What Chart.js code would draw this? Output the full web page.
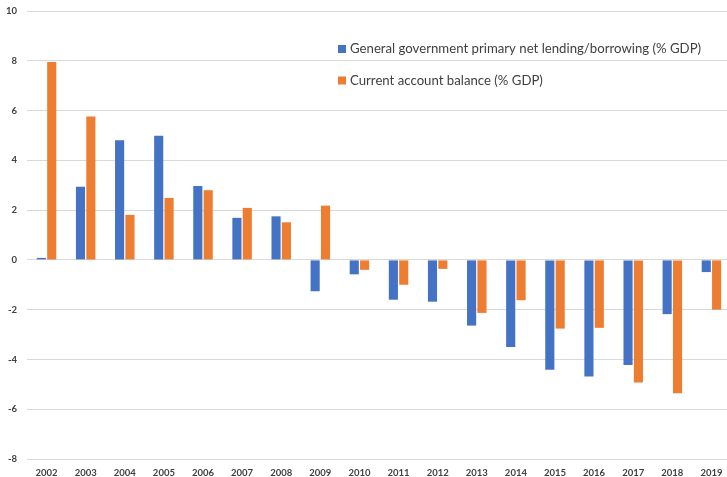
<!DOCTYPE html>
<html>
<head>
<meta charset="utf-8">
<script src="https://cdn.jsdelivr.net/npm/chart.js@4.4.1/dist/chart.umd.min.js"></script>
<style>
html,body{margin:0;padding:0;background:#fff;overflow:hidden;}
#wrap{position:relative;width:731px;height:477px;}
</style>
</head>
<body>
<div id="wrap"><canvas id="c" width="731" height="477"></canvas></div>
<script>
const categories = ['2002','2003','2004','2005','2006','2007','2008','2009','2010','2011','2012','2013','2014','2015','2016','2017','2018','2019'];
const primaryBalance = [0.08, 2.94, 4.81, 4.99, 2.97, 1.69, 1.75, -1.26, -0.58, -1.6, -1.68, -2.64, -3.5, -4.41, -4.69, -4.22, -2.18, -0.49];
const currentAccount = [7.95, 5.76, 1.81, 2.49, 2.8, 2.09, 1.51, 2.18, -0.4, -1.0, -0.36, -2.13, -1.62, -2.76, -2.73, -4.93, -5.36, -2.0];
const seriesLabels = ['General government primary net lending/borrowing (% GDP)', 'Current account balance (% GDP)'];
const yMin = -8, yMax = 10, yStep = 2;

const FONT = 'Lato, "Open Sans", sans-serif';

const insideLegend = {
  id: 'insideLegend',
  afterDraw(chart) {
    const ctx = chart.ctx;
    ctx.save();
    ctx.font = '13.2px ' + FONT;
    ctx.textBaseline = 'middle';
    const rows = [49, 80.5];
    chart.data.datasets.forEach((ds, i) => {
      ctx.fillStyle = ds.backgroundColor;
      ctx.fillRect(338, rows[i] - 4, 8, 8);
      ctx.fillStyle = '#404040';
      ctx.fillText(ds.label, 350, rows[i]);
    });
    ctx.restore();
  }
};

new Chart(document.getElementById('c'), {
  type: 'bar',
  data: {
    labels: categories,
    datasets: [
      { label: seriesLabels[0], data: primaryBalance, backgroundColor: '#4472C4', categoryPercentage: 0.53, barPercentage: 0.88 },
      { label: seriesLabels[1], data: currentAccount, backgroundColor: '#ED7D31', categoryPercentage: 0.53, barPercentage: 0.88 }
    ]
  },
  options: {
    responsive: false,
    animation: false,
    layout: { padding: { top: 11, right: 0, bottom: 0, left: 0 } },
    plugins: { legend: { display: false }, tooltip: { enabled: false } },
    scales: {
      x: {
        grid: { display: false },
        border: { display: false },
        ticks: { color: '#404040', font: { family: FONT, size: 9.5, weight: 'bold' }, padding: 0, maxRotation: 0, autoSkip: false },
        afterFit(scale) { scale.height = 18; }
      },
      y: {
        min: yMin, max: yMax,
        ticks: { stepSize: yStep, color: '#404040', font: { family: FONT, size: 9.5, weight: 'bold' }, padding: 10 },
        grid: { color: '#d9d9d9', lineWidth: 1, drawTicks: false },
        border: { display: false },
        afterFit(scale) { scale.width = 27; scale.paddingTop = 0; scale.paddingBottom = 0; }
      }
    }
  },
  plugins: [insideLegend]
});
</script>
</body>
</html>
